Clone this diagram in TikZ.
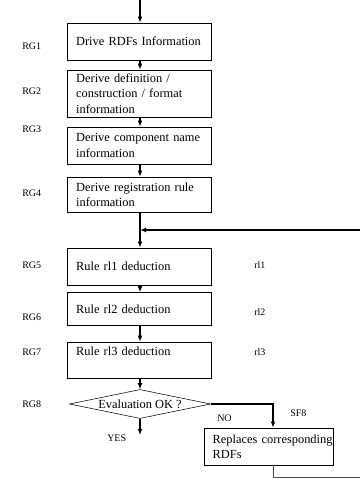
\documentclass[tikz,border=0pt]{standalone}
\usepackage{fontspec}
\setmainfont{Liberation Serif}
\usetikzlibrary{shapes.geometric,arrows.meta}
\begin{document}
\begin{tikzpicture}[x=0.75pt,y=-0.75pt,
  box/.style={draw,line width=0.6pt,rectangle,minimum width=108pt,inner xsep=6.5pt,inner ysep=1pt,
    text width=95pt,align=left,font=\fontsize{9.3}{11.6}\selectfont},
  arr/.style={line width=0.8pt,-{Latex[length=4.5pt,width=3.6pt]}},
  lbl/.style={anchor=west,inner sep=0pt,font=\fontsize{7.5}{8.5}\selectfont},
  ln/.style={line width=0.7pt}]
\useasboundingbox (0,0) rectangle (360,478);
% boxes
\node[box,minimum height=27.75pt] (b1) at (139.5,41.5) {Drive RDFs Information};
\node[box,minimum height=35.25pt] (b2) at (139.5,93.5) {Derive definition /\\construction / format\\information};
\node[box,minimum height=27.75pt] (b3) at (139.5,145.5) {Derive component name\\information};
\node[box,minimum height=26.25pt] (b4) at (139.5,194.5) {Derive registration rule\\information};
\node[box,minimum height=27.75pt] (b5) at (139.5,266.5) {Rule rl1 deduction};
\node[box,minimum height=24.75pt] (b6) at (139.5,309) {Rule rl2 deduction};
\node[box,minimum height=27pt] (b7) at (139.5,360) {\raisebox{5.5pt}[6.5pt][2pt]{Rule rl3 deduction}};
\node[diamond,draw,line width=0.4pt,inner sep=0pt,aspect=4.86,minimum width=105.75pt,minimum height=21.75pt,font=\fontsize{9.3}{11}\selectfont] (d) at (140,404) {\makebox[0pt]{Evaluation OK ?}};
\node[box,minimum width=96.75pt,text width=83.75pt,inner xsep=6.5pt,minimum height=27.75pt] (b8) at (268.5,446.5) {\mbox{Replaces corresponding}\\RDFs};
% labels
\node[lbl] (rg1) at (22,46) {RG1};
\node[lbl] (rg2) at (22,91) {RG2};
\node[lbl] (rg3) at (22,129) {RG3};
\node[lbl] (rg4) at (22,193) {RG4};
\node[lbl] (rg5) at (22,265) {RG5};
\node[lbl] (rg6) at (22,317) {RG6};
\node[lbl] (rg7) at (22,352) {RG7};
\node[lbl] (rg8) at (22,404) {RG8};
\node[lbl] (r1) at (254,265) {rl1};
\node[lbl] (r2) at (254,312) {rl2};
\node[lbl] (r3) at (254,352) {rl3};
\node[lbl] (no) at (217,418) {NO};
\node[lbl] (sf8) at (290,413) {SF8};
\node[lbl] (yes) at (107,438) {YES};
% coordinates
\coordinate (top) at (140,0);
\coordinate (fb) at (360,230);
\coordinate (yesend) at (140,435);
\coordinate (nox) at (273,0);
\coordinate (bend) at (360,477);
% connectors
\draw[arr] (top) -- (top |- b1.north);
\draw[arr] (top |- b1.south) -- (top |- b2.north);
\draw[arr] (top |- b2.south) -- (top |- b3.north);
\draw[arr] (top |- b3.south) -- (top |- b4.north);
\draw[arr] (top |- b4.south) -- (top |- b5.north);
\draw[arr] (fb) -- (top |- fb);
\draw[arr] (top |- b5.south) -- (top |- b6.north);
\draw[arr] (top |- b6.south) -- (top |- b7.north);
\draw[arr] (top |- b7.south) -- (d.north);
\draw[arr] (d.south) -- (yesend);
\draw[arr] (d.east) -| (nox |- b8.north);
\draw[line width=0.5pt,black!70] (nox |- b8.south) |- (bend);
\end{tikzpicture}
\end{document}
